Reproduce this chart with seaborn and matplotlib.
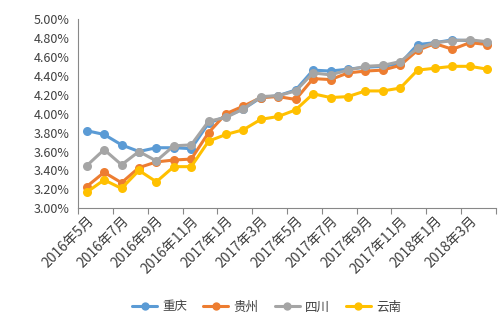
import matplotlib
matplotlib.use("Agg")
import matplotlib.pyplot as plt
import seaborn as sns
import pandas as pd
import numpy as np
from matplotlib.ticker import FixedLocator, FuncFormatter

months = ["2016年5月", "2016年6月", "2016年7月", "2016年8月", "2016年9月", "2016年10月",
          "2016年11月", "2016年12月", "2017年1月", "2017年2月", "2017年3月", "2017年4月",
          "2017年5月", "2017年6月", "2017年7月", "2017年8月", "2017年9月", "2017年10月",
          "2017年11月", "2017年12月", "2018年1月", "2018年2月", "2018年3月", "2018年4月"]

chongqing = [3.82, 3.78, 3.67, 3.60, 3.64, 3.64, 3.63, 3.90, 3.97, 4.05, 4.17, 4.19,
             4.25, 4.46, 4.45, 4.47, 4.49, 4.50, 4.53, 4.73, 4.75, 4.78, 4.77, 4.75]
guizhou = [3.23, 3.38, 3.27, 3.43, 3.49, 3.51, 3.52, 3.80, 4.00, 4.08, 4.17, 4.18,
           4.15, 4.37, 4.36, 4.43, 4.45, 4.46, 4.51, 4.67, 4.74, 4.68, 4.75, 4.73]
sichuan = [3.45, 3.62, 3.46, 3.60, 3.50, 3.66, 3.67, 3.92, 3.96, 4.05, 4.18, 4.19,
           4.24, 4.43, 4.41, 4.46, 4.50, 4.51, 4.55, 4.69, 4.75, 4.77, 4.78, 4.76]
yunnan = [3.17, 3.30, 3.21, 3.40, 3.28, 3.44, 3.44, 3.71, 3.78, 3.83, 3.94, 3.97,
          4.04, 4.21, 4.17, 4.18, 4.24, 4.24, 4.27, 4.46, 4.48, 4.50, 4.50, 4.47]

series_names = ["重庆", "贵州", "四川", "云南"]
colors = ["#5B9BD5", "#ED7D31", "#A5A5A5", "#FFC000"]

df = pd.DataFrame({
    "idx": list(range(len(months))) * 4,
    "value": chongqing + guizhou + sichuan + yunnan,
    "series": sum([[n] * len(months) for n in series_names], []),
})

sns.set_theme(style="white")
plt.rcParams["font.family"] = ["Noto Sans CJK SC", "DejaVu Sans"]

fig = plt.figure(figsize=(4.99, 3.22), dpi=100)
ax = fig.add_axes([78 / 499, 1 - 208.3 / 322, (496 - 78) / 499, (208.3 - 19) / 322])

sns.lineplot(data=df, x="idx", y="value", hue="series", hue_order=series_names,
             palette=colors, marker="o", markersize=6.5, markeredgewidth=0,
             linewidth=2.2, ax=ax, legend=False, sort=False)

ax.set_xlim(-0.5, len(months) - 0.5)
ax.set_ylim(3.0, 5.0)
ax.set_yticks(np.arange(3.0, 5.001, 0.2))
ax.yaxis.set_major_formatter(FuncFormatter(lambda v, p: f"{v:.2f}%"))

ax.xaxis.set_major_locator(FixedLocator(np.arange(-0.5, len(months), 2)))
ax.xaxis.set_major_formatter(FuncFormatter(lambda v, p: ""))
ax.xaxis.set_minor_locator(FixedLocator(np.arange(0, len(months), 2)))
ax.set_xticklabels([months[i] for i in range(0, len(months), 2)], minor=True)
ax.tick_params(axis="x", which="major", length=4, width=0.8, color="#888888", direction="out", bottom=True)
ax.tick_params(axis="x", which="minor", length=0, pad=4, labelsize=10, labelcolor="#404040")
for lab in ax.get_xticklabels(minor=True):
    lab.set_rotation(45)
    lab.set_ha("right")
    lab.set_va("top")
    lab.set_rotation_mode("anchor")
ax.tick_params(axis="y", length=0, labelsize=9, labelcolor="#404040", pad=6)

ax.set_xlabel("")
ax.set_ylabel("")
for s in ["top", "right"]:
    ax.spines[s].set_visible(False)
for s in ["left", "bottom"]:
    ax.spines[s].set_color("#888888")
    ax.spines[s].set_linewidth(0.8)

handles = [plt.Line2D([], [], color=c, marker="o", markersize=6, markeredgewidth=0, linewidth=2.2)
           for c in colors]
fig.legend(handles, series_names, loc="center", bbox_to_anchor=(266.5 / 499, 1 - 307 / 322),
           ncol=4, frameon=False, fontsize=9, handlelength=2.0, columnspacing=1.3,
           handletextpad=0.4, labelcolor="#404040")

fig.savefig("out.png", dpi=100)
